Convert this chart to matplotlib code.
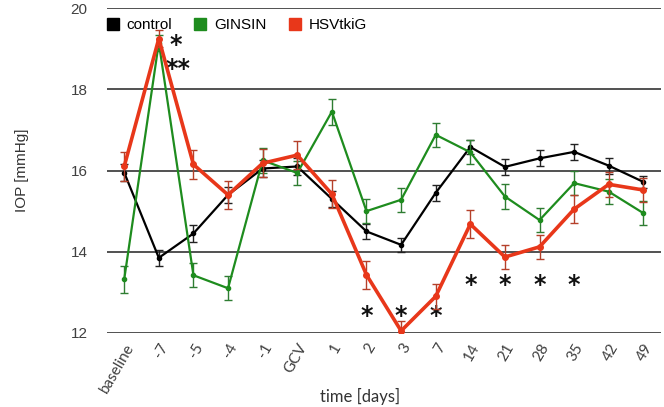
import matplotlib
matplotlib.use("Agg")
import matplotlib.pyplot as plt
from matplotlib.lines import Line2D
import numpy as np

# time points
labels = ["baseline", "-7", "-5", "-4", "-1", "GCV", "1", "2", "3", "7",
          "14", "21", "28", "35", "42", "49"]

# IOP [mmHg] means and errors
control = [15.95, 13.85, 14.45, 15.4, 16.05, 16.1, 15.3, 14.5, 14.17, 15.45,
           16.58, 16.09, 16.3, 16.46, 16.12, 15.72]
control_err = [0.2, 0.2, 0.22, 0.2, 0.2, 0.2, 0.2, 0.18, 0.18, 0.2,
               0.18, 0.2, 0.2, 0.2, 0.2, 0.15]
ginsin = [13.32, 19.15, 13.42, 13.1, 16.25, 15.94, 17.45, 15.0, 15.28, 16.88,
          16.45, 15.36, 14.78, 15.69, 15.48, 14.95]
ginsin_err = [0.33, 0.2, 0.3, 0.3, 0.3, 0.3, 0.32, 0.3, 0.3, 0.3,
              0.3, 0.3, 0.3, 0.3, 0.3, 0.3]
hsvtkig = [16.1, 19.25, 16.15, 15.4, 16.18, 16.38, 15.42, 13.43, 12.05, 12.9,
           14.68, 13.87, 14.12, 15.05, 15.66, 15.52]
hsvtkig_err = [0.35, 0.2, 0.35, 0.35, 0.35, 0.35, 0.35, 0.35, 0.25, 0.3,
               0.35, 0.3, 0.3, 0.35, 0.3, 0.3]

# significance markers: (index offset, y, text)
stars_x = [1.5, 1.55, 7, 8, 9, 10, 11, 12, 13]
stars_y = [19.08, 18.5, 12.42, 12.42, 12.42, 13.17, 13.17, 13.17, 13.17]
stars_txt = ["*", "**", "*", "*", "*", "*", "*", "*", "*"]

BLACK = "#000000"
GREEN = "#1e8c1e"
RED = "#e8371a"


def main():
    fig = plt.figure(figsize=(6.64, 4.07), dpi=100)
    ax = fig.add_axes([0.161, 0.182, 0.834, 0.798])
    x = np.arange(len(labels))

    ax.errorbar(x, control, yerr=control_err, color=BLACK, lw=1.6,
                marker="o", ms=3, ecolor="#222222", elinewidth=1.0,
                capsize=3, capthick=1.0, zorder=3)
    ax.errorbar(x, ginsin, yerr=ginsin_err, color=GREEN, lw=1.6,
                marker="o", ms=3, ecolor="#2e7d32", elinewidth=1.0,
                capsize=3, capthick=1.0, zorder=4)
    ax.errorbar(x, hsvtkig, yerr=hsvtkig_err, color=RED, lw=2.6,
                marker="o", ms=4, ecolor="#b5402a", elinewidth=1.0,
                capsize=3, capthick=1.0, zorder=5)

    for sx, sy, st in zip(stars_x, stars_y, stars_txt):
        ax.text(sx, sy, st, ha="center", va="center", fontsize=17,
                fontweight="bold", color="#111111")

    ax.set_xlim(-0.5, 15.5)
    ax.set_ylim(12, 20)
    ax.set_yticks([12, 14, 16, 18, 20])
    ax.yaxis.grid(True, color="#333333", lw=1.2)
    ax.set_axisbelow(True)
    for s in ax.spines.values():
        s.set_visible(False)

    ax.set_xticks(x)
    ax.set_xticklabels(labels, rotation=60, ha="right",
                       rotation_mode="anchor", family="Lato", fontsize=11,
                       color="#404040")
    ax.tick_params(axis="x", length=0, pad=6)
    ax.tick_params(axis="y", length=0, pad=14, labelsize=11,
                   labelcolor="#404040")
    for t in ax.get_yticklabels():
        t.set_family("Liberation Sans")

    ax.set_ylabel("IOP [mmHg]", family="Liberation Sans", fontsize=11,
                  color="#333333", labelpad=30)
    fig.text(0.542, 0.025, "time [days]", ha="center", va="center",
             family="Lato", fontsize=12, color="#333333")

    handles = [Line2D([], [], ls="none", marker="s", ms=8, color=c)
               for c in (BLACK, GREEN, RED)]
    ax.legend(handles, ["control", "GINSIN", "HSVtkiG"], loc="upper left",
              bbox_to_anchor=(-0.028, 1.012), ncol=3, frameon=False,
              handletextpad=0.4, columnspacing=1.35, handlelength=1.0,
              prop={"family": "Liberation Sans", "size": 11})

    fig.savefig("out.png", dpi=100)


if __name__ == "__main__":
    main()
